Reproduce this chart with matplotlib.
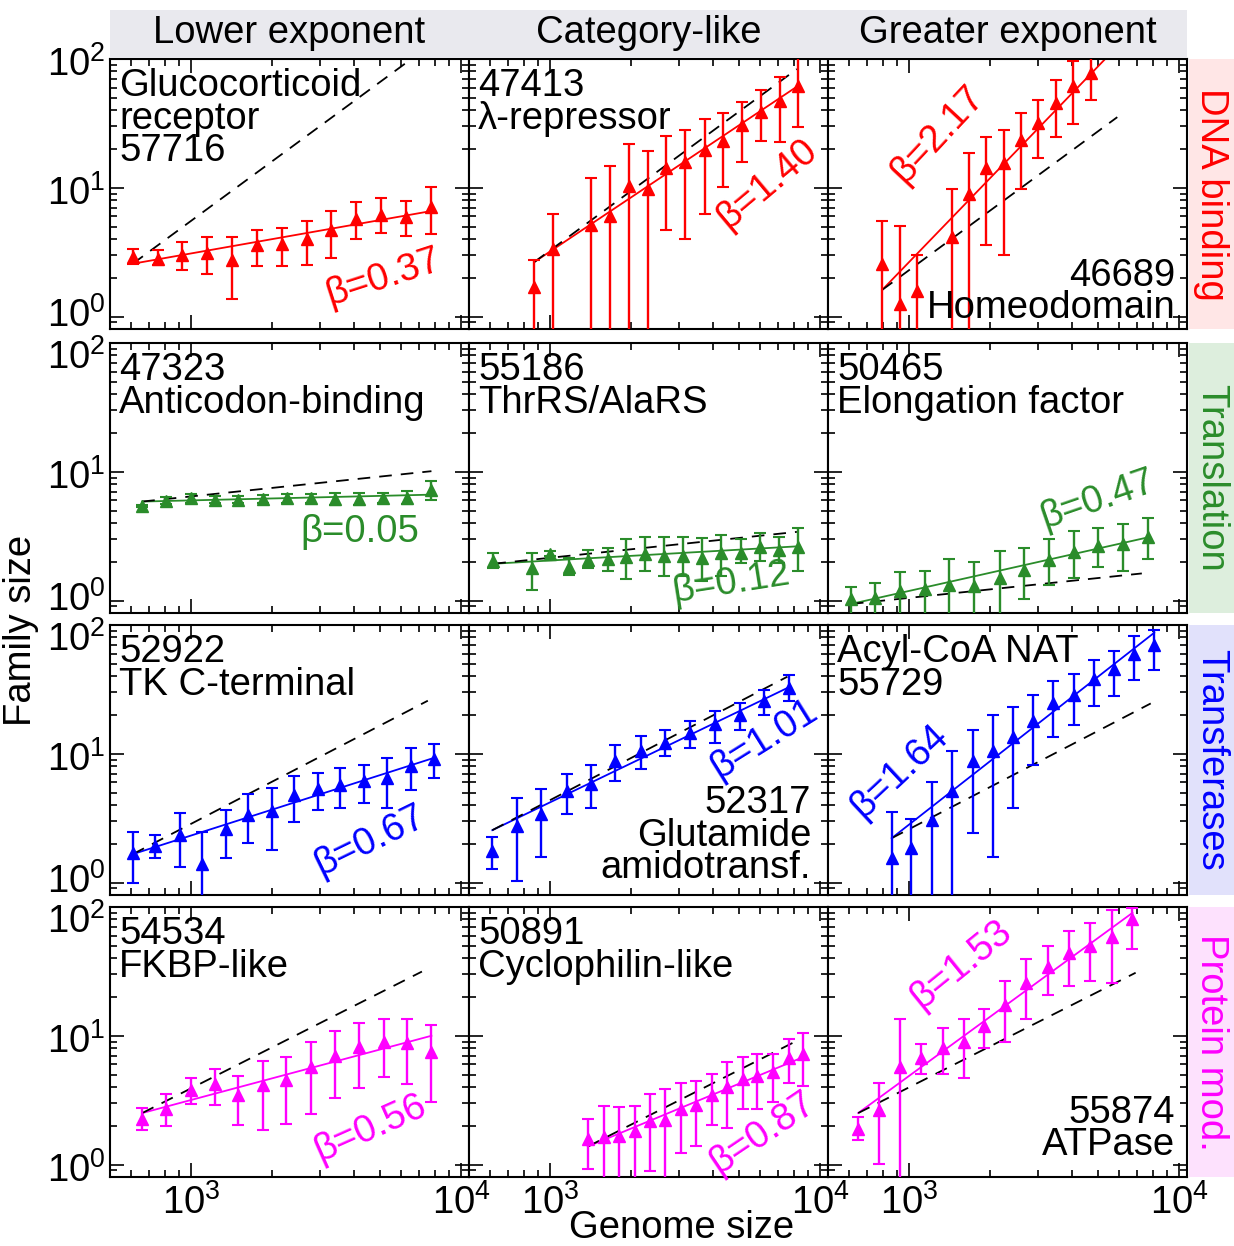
import numpy as np
import matplotlib.pyplot as plt
from matplotlib.patches import Rectangle
from matplotlib.transforms import blended_transform_factory, offset_copy

plt.rcParams['font.family'] = ['Liberation Sans', 'DejaVu Sans']
plt.rcParams['mathtext.default'] = 'regular'

# ---- data ----
col_titles = ['Lower exponent', 'Category-like', 'Greater exponent']
row_titles = ['DNA binding', 'Translation', 'Transferases', 'Protein mod.']
row_colors = ['#ff0000', '#2a8c2a', '#0000ff', '#ff00ff']
row_bg = ['#ffe6e6', '#ddeedd', '#e1e1fb', '#fde1fd']
ref_slope = [1.54, 0.22, 1.09, 1.06]   # category exponent (dashed line)
ytick_vals = [1, 10, 100]
ytick_text = ['$10^{0}$', '$10^{1}$', '$10^{2}$']

# DNA binding
x_57716 = [607, 750, 927, 1146, 1416, 1752, 2166, 2677, 3309, 4090, 5055, 6248, 7727]
y_57716 = [2.90, 2.81, 2.99, 3.12, 2.73, 3.57, 3.68, 4.03, 4.68, 5.77, 6.12, 5.94, 7.11]
lo_57716 = [2.57, 2.50, 2.28, 2.15, 1.37, 2.45, 2.45, 2.50, 2.87, 4.01, 4.46, 4.20, 4.35]
hi_57716 = [3.37, 3.31, 3.80, 4.15, 4.15, 4.68, 4.88, 5.53, 6.62, 7.78, 8.36, 7.87, 10.2]

x_47413 = [873, 1027, 1419, 1668, 1953, 2297, 2697, 3170, 3731, 4377, 5149, 6056, 7110, 8318]
y_47413 = [1.69, 3.37, 5.12, 6.02, 10.3, 9.71, 14.2, 15.8, 19.7, 23.2, 30.8, 39.1, 47.3, 62.0]
lo_47413 = [0.1, 0.1, 0.1, 0.1, 0.1, 0.1, 4.68, 4.01, 6.31, 10.2, 15.9, 23.2, 22.6, 29.5]
hi_47413 = [2.76, 6.31, 12.0, 14.8, 21.9, 19.4, 25.3, 28.1, 34.5, 37.9, 46.2, 57.7, 72.4, 130]

x_46689 = [794, 922, 1072, 1438, 1668, 1930, 2240, 2600, 3013, 3505, 4055, 4713]
y_46689 = [2.57, 1.26, 1.58, 4.15, 8.93, 14.2, 15.5, 23.5, 32.1, 45.9, 62.0, 77.8]
lo_46689 = [0.1, 0.1, 0.1, 0.1, 0.1, 3.57, 2.99, 9.71, 16.9, 25.0, 31.2, 48.2]
hi_46689 = [5.53, 5.03, 2.99, 9.71, 18.7, 25.0, 28.1, 37.9, 48.2, 69.0, 95.9, 130]

# Translation
x_47323 = [658, 809, 995, 1221, 1495, 1842, 2255, 2778, 3411, 4180, 5145, 6300, 7766]
y_47323 = [5.43, 5.94, 6.20, 6.05, 6.02, 6.12, 6.20, 6.20, 6.12, 6.12, 6.20, 6.31, 7.19]
lo_47323 = [5.35, 5.60, 5.77, 5.67, 5.67, 5.67, 5.74, 5.70, 5.53, 5.47, 5.67, 5.60, 6.05]
hi_47323 = [5.55, 6.38, 6.70, 6.50, 6.44, 6.62, 6.70, 6.70, 6.78, 6.86, 6.86, 7.11, 8.51]

x_55186 = [615, 853, 999, 1175, 1386, 1631, 1913, 2252, 2650, 3111, 3659, 4303, 5080, 5996, 7051, 8318]
y_55186 = [2.02, 1.78, 2.31, 1.83, 2.05, 2.09, 2.18, 2.28, 2.22, 2.22, 2.15, 2.35, 2.35, 2.60, 2.45, 2.60]
lo_55186 = [1.78, 1.20, 2.22, 1.59, 1.78, 1.71, 1.46, 1.71, 1.55, 1.55, 1.42, 1.55, 1.94, 2.02, 1.94, 1.71]
hi_55186 = [2.35, 2.35, 2.42, 2.13, 2.47, 2.57, 2.99, 3.12, 3.12, 3.12, 3.04, 3.23, 2.99, 3.37, 3.13, 3.64]

x_50465 = [608, 747, 927, 1146, 1410, 1741, 2163, 2656, 3289, 4074, 5021, 6194, 7691]
y_50465 = [1.02, 1.05, 1.18, 1.22, 1.33, 1.29, 1.50, 1.74, 2.05, 2.39, 2.65, 2.73, 3.12]
lo_50465 = [0.1, 0.1, 0.1, 0.1, 0.1, 0.1, 0.1, 1.02, 1.32, 1.50, 1.83, 1.71, 2.09]
hi_50465 = [1.27, 1.37, 1.67, 1.71, 2.11, 2.00, 2.42, 2.57, 2.99, 3.47, 3.64, 3.96, 4.41]

# Transferases
x_52922 = [607, 736, 905, 1096, 1343, 1626, 1984, 2408, 2941, 3571, 4385, 5309, 6501, 7913]
y_52922 = [1.71, 1.92, 2.34, 1.39, 2.59, 3.35, 3.59, 4.78, 5.29, 5.71, 6.14, 6.44, 8.02, 9.04]
lo_52922 = [1.00, 1.54, 1.31, 0.1, 1.54, 2.01, 1.78, 2.97, 3.64, 3.81, 4.12, 3.77, 5.20, 6.44]
hi_52922 = [2.48, 2.34, 3.47, 2.48, 3.64, 4.90, 5.45, 6.75, 7.08, 7.79, 8.17, 9.31, 11.0, 12.0]

x_52317 = [610, 750, 925, 1152, 1419, 1742, 2168, 2673, 3291, 4074, 5046, 6207, 7677]
y_52317 = [1.76, 2.75, 3.39, 5.14, 5.85, 8.77, 10.5, 12.2, 14.5, 16.9, 19.9, 25.9, 32.5]
lo_52317 = [1.27, 1.02, 1.58, 3.39, 3.81, 6.14, 7.65, 9.59, 11.0, 12.2, 15.3, 19.9, 25.9]
hi_52317 = [2.26, 4.56, 5.29, 7.00, 8.17, 11.6, 13.7, 15.3, 17.9, 21.4, 24.9, 31.2, 40.7]

x_55729 = [861, 1016, 1213, 1439, 1717, 2038, 2417, 2868, 3405, 4074, 4838, 5758, 6826, 8091]
y_55729 = [1.56, 1.85, 3.04, 5.14, 8.77, 10.6, 13.5, 17.9, 24.9, 28.8, 38.4, 45.9, 59.6, 70.4]
lo_55729 = [0.1, 0.1, 0.1, 0.1, 2.41, 1.59, 3.81, 8.17, 13.5, 16.7, 23.7, 28.0, 37.2, 45.1]
hi_55729 = [3.53, 3.10, 6.07, 10.6, 15.3, 19.9, 23.1, 28.8, 36.6, 42.0, 53.2, 62.5, 81.7, 92.0]

# Protein modification
x_54534 = [658, 807, 994, 1221, 1496, 1846, 2253, 2778, 3411, 4180, 5160, 6300, 7766]
y_54534 = [2.27, 2.71, 3.82, 4.20, 3.45, 4.13, 4.51, 5.67, 6.98, 8.21, 8.98, 8.72, 7.50]
lo_54534 = [1.84, 1.98, 2.97, 2.88, 2.01, 1.86, 2.07, 2.48, 3.29, 3.96, 4.79, 4.20, 3.04]
hi_54534 = [2.76, 3.55, 4.73, 5.56, 4.91, 6.39, 6.86, 8.98, 10.9, 12.6, 13.6, 13.5, 12.2]

x_50891 = [1378, 1577, 1804, 2056, 2337, 2673, 3040, 3475, 3963, 4530, 5180, 5857, 6700, 7677, 8655]
y_50891 = [1.58, 1.65, 1.68, 1.82, 2.18, 2.20, 2.71, 2.92, 3.45, 4.01, 4.65, 4.88, 5.24, 6.66, 7.19]
lo_50891 = [0.925, 0.1, 0.1, 0.1, 0.887, 0.1, 1.22, 1.39, 2.01, 1.93, 2.71, 2.71, 3.04, 4.30, 4.05]
hi_50891 = [2.27, 2.83, 2.80, 2.83, 3.55, 3.84, 4.30, 4.43, 5.09, 6.27, 6.78, 7.16, 7.28, 9.36, 10.5]

x_55874 = [647, 773, 925, 1104, 1329, 1589, 1897, 2270, 2716, 3262, 3908, 4667, 5627, 6720]
y_55874 = [1.90, 2.64, 5.73, 6.66, 8.06, 8.98, 11.9, 17.3, 25.6, 34.5, 43.8, 50.0, 58.4, 80.6]
lo_55874 = [1.56, 1.01, 0.1, 5.03, 5.03, 4.71, 8.10, 8.87, 13.4, 20.7, 24.4, 26.7, 25.9, 47.1]
hi_55874 = [2.34, 4.33, 13.4, 8.61, 11.5, 13.4, 16.0, 26.7, 39.3, 50.0, 64.6, 75.0, 95.3, 98.0]

# fitted exponents, fit value at first point, end of fit / reference line
betas = [0.37, 1.40, 2.17, 0.05, 0.12, 0.47, 0.67, 1.01, 1.64, 0.56, 0.87, 1.53]
fit_y0 = [2.57, 2.65, 1.61, 5.87, 1.93, 0.94, 1.66, 2.55, 2.21, 2.51, 1.38, 2.51]
fit_xend = [7727, 8318, 5902, 7766, 8318, 7691, 7913, 7677, 8091, 7766, 8655, 6720]
ref_xend = [7727, 8204, 5902, 7766, 8204, 7278, 7530, 7568, 7852, 7161, 8091, 6903]

names = ['Glucocorticoid\nreceptor\n57716', '47413\nλ-repressor', '46689\nHomeodomain',
         '47323\nAnticodon-binding', '55186\nThrRS/AlaRS', '50465\nElongation factor',
         '52922\nTK C-terminal', '52317\nGlutamide\namidotransf.', 'Acyl-CoA NAT\n55729',
         '54534\nFKBP-like', '50891\nCyclophilin-like', '55874\nATPase']

series = [
    (x_57716, y_57716, lo_57716, hi_57716), (x_47413, y_47413, lo_47413, hi_47413),
    (x_46689, y_46689, lo_46689, hi_46689), (x_47323, y_47323, lo_47323, hi_47323),
    (x_55186, y_55186, lo_55186, hi_55186), (x_50465, y_50465, lo_50465, hi_50465),
    (x_52922, y_52922, lo_52922, hi_52922), (x_52317, y_52317, lo_52317, hi_52317),
    (x_55729, y_55729, lo_55729, hi_55729), (x_54534, y_54534, lo_54534, hi_54534),
    (x_50891, y_50891, lo_50891, hi_50891), (x_55874, y_55874, lo_55874, hi_55874),
]

# label placement (axes fraction): name box corner, beta centre + angle
name_pos = [(0.025, 0.966, 'tl'), (0.025, 0.966, 'tl'), (0.969, 0.011, 'br'),
            (0.025, 0.966, 'tl'), (0.025, 0.966, 'tl'), (0.025, 0.966, 'tl'),
            (0.025, 0.966, 'tl'), (0.953, 0.033, 'br'), (0.025, 0.966, 'tl'),
            (0.025, 0.966, 'tl'), (0.025, 0.966, 'tl'), (0.967, 0.052, 'br')]
beta_pos = [(0.761, 0.19, 18), (0.832, 0.536, 40), (0.306, 0.721, 47),
            (0.696, 0.301, 0), (0.730, 0.11, 9), (0.751, 0.419, 19),
            (0.724, 0.20, 26), (0.823, 0.577, 32), (0.199, 0.459, 43),
            (0.724, 0.18, 24), (0.818, 0.162, 34), (0.370, 0.785, 39)]

W, H = 1234, 1246
FS = 27.5
fig = plt.figure(figsize=(W / 100, H / 100), dpi=100)

col_left = [110, 469, 828]
row_top = [59, 343, 625, 907]
aw, ah = 359, 270


def fx(px):
    return px / W


def fy(py):
    return 1 - py / H


for i in range(4):
    for j in range(3):
        k = i * 3 + j
        ax = fig.add_axes([fx(col_left[j]), fy(row_top[i] + ah), aw / W, ah / H])
        c = row_colors[i]
        x, y, lo, hi = [np.array(a, dtype=float) for a in series[k]]
        ax.errorbar(x, y, yerr=[y - lo, hi - y], fmt='^', color=c, ms=9,
                    capsize=4, elinewidth=1.7, capthick=1.5, zorder=3)
        x0 = x[0]
        xe = fit_xend[k]
        ax.plot([x0, xe], [fit_y0[k], fit_y0[k] * (xe / x0) ** betas[k]],
                color=c, lw=1.3, zorder=2)
        xr = ref_xend[k]
        ax.plot([x0, xr], [fit_y0[k], fit_y0[k] * (xr / x0) ** ref_slope[i]],
                color='black', lw=1.3, ls=(0, (7, 5)), zorder=2)

        ax.set_xscale('log')
        ax.set_yscale('log')
        ax.set_xlim(500, 10700)
        ax.set_ylim(0.8, 100)
        for s in ax.spines.values():
            s.set_linewidth(1.5)
        ax.tick_params(which='both', direction='in', top=True, right=True,
                       labelsize=FS, width=1.2, labelleft=False)
        ax.tick_params(which='major', length=10)
        ax.tick_params(which='minor', length=5)
        ax.tick_params(axis='x', pad=5)
        if i < 3:
            ax.tick_params(labelbottom=False)

        # y tick labels drawn by hand so the stacked panels do not collide
        if j == 0:
            tr = blended_transform_factory(ax.transAxes, ax.transData)
            for v, t in zip(ytick_vals, ytick_text):
                dy = 2
                if v == 100 and i > 0:
                    dy = 11
                if v == 1 and i < 3:
                    dy = -5
                ax.text(-0.012, v, t, transform=offset_copy(tr, fig=fig, y=-dy, units='dots'),
                        ha='right', va='center_baseline', fontsize=FS, clip_on=False)

        px_, py_, mode = name_pos[k]
        if mode == 'tl':
            ax.text(px_, py_, names[k], transform=ax.transAxes, ha='left', va='top',
                    fontsize=FS, linespacing=0.87)
        else:
            ax.text(px_, py_, names[k], transform=ax.transAxes, ha='right', va='bottom',
                    fontsize=FS, linespacing=0.87)
        bx, by, rot = beta_pos[k]
        ax.text(bx, by, f'β={betas[k]:.2f}', transform=ax.transAxes, color=c,
                fontsize=FS, rotation=rot, rotation_mode='anchor',
                ha='center', va='center')

# column headers
for j, t in enumerate(col_titles):
    r = col_left[j]
    fig.add_artist(Rectangle((fx(r), fy(58)), aw / W, 48 / H, transform=fig.transFigure,
                             facecolor='#e9e9ee', edgecolor='none'))
    fig.text(fx(r + aw / 2), fy(43), t, ha='center', va='baseline', fontsize=FS)

# row labels
for i, t in enumerate(row_titles):
    fig.add_artist(Rectangle((fx(1189), fy(row_top[i] + ah)), 45 / W, ah / H,
                             transform=fig.transFigure, facecolor=row_bg[i], edgecolor='none'))
    fig.text(fx(1211), fy(row_top[i] + ah / 2), t, rotation=270, color=row_colors[i],
             ha='center', va='center', fontsize=FS)

fig.text(fx(21), fy(630), 'Family size', rotation=90, ha='center', va='center', fontsize=FS)
fig.text(fx(682), fy(1238), 'Genome size', ha='center', va='baseline', fontsize=FS)

fig.savefig('out.png', dpi=100)
